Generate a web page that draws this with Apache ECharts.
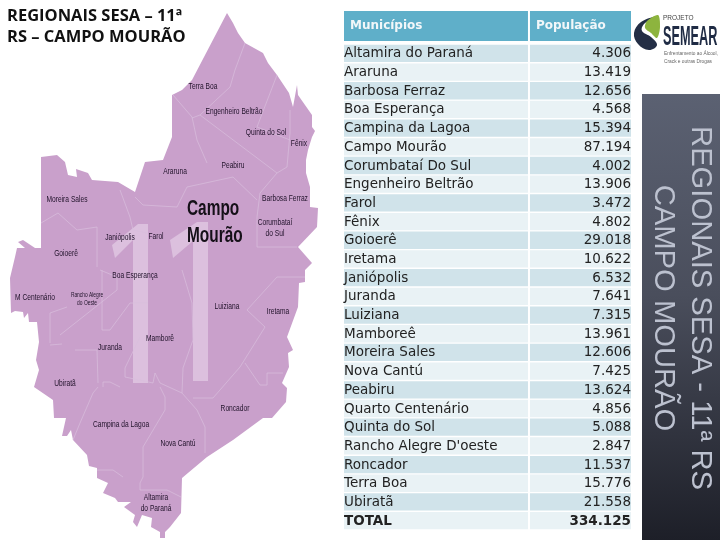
<!DOCTYPE html>
<html>
<head>
<meta charset="utf-8">
<style>html,body{margin:0;padding:0;background:#fff}#main{width:720px;height:540px}</style>
<script src="https://cdn.jsdelivr.net/npm/echarts@6/dist/echarts.min.js"></script>
</head>
<body>
<div id="main"></div>
<script>
// tabela
var cabecalho = ['Municípios', 'População'];
var municipios = ['Altamira do Paraná', 'Araruna', 'Barbosa Ferraz', 'Boa Esperança', 'Campina da Lagoa',
  'Campo Mourão', 'Corumbataí Do Sul', 'Engenheiro Beltrão', 'Farol', 'Fênix', 'Goioerê', 'Iretama',
  'Janiópolis', 'Juranda', 'Luiziana', 'Mamboreê', 'Moreira Sales', 'Nova Cantú', 'Peabiru',
  'Quarto Centenário', 'Quinta do Sol', "Rancho Alegre D'oeste", 'Roncador', 'Terra Boa', 'Ubiratã', 'TOTAL'];
var populacao = [4306, 13419, 12656, 4568, 15394, 87194, 4002, 13906, 3472, 4802, 29018, 10622,
  6532, 7641, 7315, 13961, 12606, 7425, 13624, 4856, 5088, 2847, 11537, 15776, 21558, 334125];

// rotulos do mapa
var rotulos = ['Terra Boa', 'Engenheiro Beltrão', 'Quinta do Sol', 'Fênix', 'Peabiru', 'Araruna',
  'Moreira Sales', 'Barbosa Ferraz', 'Corumbataí\ndo Sul', 'Janiópolis', 'Farol', 'Goioerê',
  'Boa Esperança', 'M Centenário', 'Juranda', 'Mamborê', 'Luiziana', 'Iretama', 'Ubiratã',
  'Roncador', 'Campina da Lagoa', 'Nova Cantú', 'Altamira\ndo Paraná'];
var rotulosPos = [[203, 86], [234, 111], [266, 132], [299, 143], [233, 165], [175, 171],
  [67, 199], [285, 198], [275, 228], [120, 237], [156, 236], [66, 253],
  [135, 275], [35, 297], [110, 347], [160, 338], [227, 306], [278, 311], [65, 383],
  [235, 408], [121, 424], [178, 443], [156, 503]];

// contorno da regional, em pixels da imagem
var contorno = [[227, 13], [233, 23], [238, 33], [245, 43], [263, 53], [268, 63], [277, 75], [289, 93], [293, 107],
  [297, 85], [298, 95], [312, 115], [312, 127], [315, 131], [312, 137], [308, 150], [306, 160], [306, 173],
  [310, 187], [310, 207], [318, 208], [317, 227], [298, 247], [312, 263], [305, 270], [305, 282], [299, 283],
  [298, 307], [287, 337], [293, 350], [288, 353], [289, 367], [282, 383], [287, 388], [286, 402], [272, 418],
  [263, 418], [233, 440], [207, 457], [182, 478], [181, 513], [170, 527], [165, 532], [165, 538], [160, 538],
  [160, 532], [151, 527], [152, 518], [142, 515], [137, 527], [133, 522], [135, 515], [124, 507], [131, 502],
  [118, 502], [115, 498], [103, 493], [108, 483], [97, 478], [97, 468], [89, 466], [87, 455], [73, 440],
  [71, 430], [67, 436], [62, 436], [66, 418], [54, 418], [53, 400], [34, 387], [39, 370], [36, 360], [39, 342],
  [37, 322], [29, 322], [28, 313], [24, 318], [23, 312], [15, 311], [11, 313], [10, 278], [15, 257], [17, 248],
  [25, 248], [18, 242], [23, 240], [35, 248], [41, 248], [41, 157], [57, 155], [65, 162], [68, 175], [77, 177],
  [76, 169], [88, 173], [92, 180], [118, 182], [135, 192], [145, 162], [163, 160], [172, 137], [172, 95],
  [182, 90], [192, 80], [227, 13]];
var umEsq = [[112, 245], [138, 224], [148, 224], [148, 383], [133, 383], [133, 240], [115, 258], [112, 245]];
var umDir = [[170, 240], [197, 222], [208, 222], [208, 381], [193, 381], [193, 241], [173, 258], [170, 240]];
var divisas = [
  [[173, 95], [192, 117], [197, 140], [207, 163]],
  [[245, 43], [235, 70], [230, 87], [200, 115], [192, 118]],
  [[200, 115], [277, 173]],
  [[277, 75], [257, 127], [290, 140]],
  [[290, 110], [290, 133], [287, 167], [277, 173], [260, 193], [257, 217], [257, 247], [297, 247]],
  [[41, 223], [58, 213], [77, 230], [97, 227], [97, 267]],
  [[120, 190], [130, 217], [133, 230], [147, 233]],
  [[135, 197], [143, 205], [177, 207], [187, 187], [233, 177], [257, 200]],
  [[50, 343], [50, 313], [67, 307]],
  [[50, 345], [62, 344]],
  [[60, 335], [117, 290], [117, 277], [100, 270]],
  [[102, 270], [102, 330], [110, 330], [130, 303], [148, 303]],
  [[75, 350], [97, 350], [98, 383]],
  [[125, 377], [125, 368], [140, 337]],
  [[125, 377], [153, 383], [155, 373], [160, 383], [182, 393], [183, 368], [193, 340], [192, 303], [182, 270]],
  [[98, 387], [93, 393], [80, 423], [73, 440]],
  [[103, 387], [103, 382], [110, 382], [120, 387]],
  [[160, 387], [165, 397], [165, 410], [143, 447], [143, 477], [140, 483], [140, 490], [167, 490], [181, 497]],
  [[182, 393], [197, 410], [205, 427], [205, 453]],
  [[193, 398], [213, 398], [240, 367], [265, 327], [247, 310], [277, 277], [305, 277]],
  [[245, 363], [260, 385], [267, 385], [267, 373], [283, 373]],
  [[97, 470], [113, 470], [123, 477]]
];

function poligono(nome, anel) {
  return { type: 'Feature', properties: { name: nome }, geometry: { type: 'Polygon', coordinates: [anel] } };
}
echarts.registerMap('regional', {
  type: 'FeatureCollection',
  features: [poligono('regional', contorno), poligono('umEsq', umEsq), poligono('umDir', umDir)]
});

var fonteTabela = '"DejaVu Sans", sans-serif';
var fonteMapa = '"Liberation Sans", sans-serif';
var divisaoColuna = 0.6445;

function milhar(v) {
  return String(v).replace(/\B(?=(\d{3})+$)/g, '.');
}

function linhaTabela(params, api) {
  var i = api.value(0);
  var cs = params.coordSys;
  var yc = api.coord([0, i])[1];
  var h = api.size([0, 1])[1];
  var w1 = cs.width * divisaoColuna;
  var cor = i % 2 === 0 ? '#d0e3ea' : '#e9f2f5';
  var peso = municipios[i] === 'TOTAL' ? 'bold' : 'normal';
  var y = yc - h / 2 + 0.7;
  var alt = h - 1.4;
  return {
    type: 'group',
    children: [
      { type: 'rect', shape: { x: cs.x, y: y, width: w1 - 1, height: alt }, style: { fill: cor } },
      { type: 'rect', shape: { x: cs.x + w1 + 1, y: y, width: cs.width - w1 - 1, height: alt }, style: { fill: cor } },
      { type: 'text', x: cs.x, y: yc + 0.5, style: { text: municipios[i], fill: '#222', font: peso + ' 13.5px ' + fonteTabela, textAlign: 'left', textVerticalAlign: 'middle' } },
      { type: 'text', x: cs.x + cs.width, y: yc + 0.5, style: { text: milhar(populacao[i]), fill: '#222', font: peso + ' 13.5px ' + fonteTabela, textAlign: 'right', textVerticalAlign: 'middle' } }
    ]
  };
}

function linhaCabecalho(params, api) {
  var cs = params.coordSys;
  var w1 = cs.width * divisaoColuna;
  var estilo = { fill: '#f2f7f9', font: 'bold 12px ' + fonteTabela, textAlign: 'left', textVerticalAlign: 'middle' };
  var yc = cs.y + cs.height / 2;
  return {
    type: 'group',
    children: [
      { type: 'rect', shape: { x: cs.x, y: cs.y, width: w1 - 1, height: cs.height }, style: { fill: '#5fafc9' } },
      { type: 'rect', shape: { x: cs.x + w1 + 1, y: cs.y, width: cs.width - w1 - 1, height: cs.height }, style: { fill: '#5fafc9' } },
      { type: 'text', x: cs.x + 6, y: yc, style: Object.assign({ text: cabecalho[0] }, estilo) },
      { type: 'text', x: cs.x + w1 + 7, y: yc, style: Object.assign({ text: cabecalho[1] }, estilo) }
    ]
  };
}

// texto estreito: nao ha fonte condensada instalada
function rotuloMapa(params, api) {
  var p = api.coord([api.value(0), api.value(1)]);
  var nome = rotulos[params.dataIndex];
  return {
    type: 'text', x: p[0], y: p[1], scaleX: 0.7,
    style: { text: nome, fill: '#20122a', font: '9.5px ' + fonteMapa, lineHeight: 11, textAlign: 'center', textVerticalAlign: 'middle' }
  };
}

function nomeCentro(params, api) {
  var p = api.coord([api.value(0), api.value(1)]);
  return {
    type: 'text', x: p[0], y: p[1], scaleX: 0.7,
    style: { text: 'Campo\nMourão', fill: '#151018', font: 'bold 22px ' + fonteMapa, lineHeight: 27, textAlign: 'left', textVerticalAlign: 'middle' }
  };
}

function rotuloRancho(params, api) {
  var p = api.coord([api.value(0), api.value(1)]);
  return {
    type: 'text', x: p[0], y: p[1], scaleX: 0.65,
    style: { text: 'Rancho Alegre\ndo Oeste', fill: '#20122a', font: '7.5px ' + fonteMapa, lineHeight: 8, textAlign: 'center', textVerticalAlign: 'middle' }
  };
}

var chart = echarts.init(document.getElementById('main'));

chart.setOption({
  animation: false,
  backgroundColor: '#fff',
  title: {
    text: 'REGIONAIS SESA – 11ª\nRS – CAMPO MOURÃO',
    left: 2,
    top: 1,
    textStyle: { fontFamily: '"Open Sans", sans-serif', fontWeight: 'bold', fontSize: 16.5, lineHeight: 21, color: '#111' }
  },
  geo: {
    map: 'regional',
    silent: true,
    projection: {
      project: function (p) { return [p[0], p[1]]; },
      unproject: function (p) { return [p[0], p[1]]; }
    },
    boundingCoords: [[0, 0], [720, 540]],
    left: 0,
    top: 0,
    width: 720,
    height: 540,
    label: { show: false },
    itemStyle: { areaColor: '#c9a0cb', borderWidth: 0 },
    regions: [
      { name: 'umEsq', itemStyle: { areaColor: '#dcc0de' } },
      { name: 'umDir', itemStyle: { areaColor: '#dcc0de' } }
    ]
  },
  grid: [
    { left: 344, top: 44, width: 287, height: 486 },
    { left: 344, top: 11, width: 287, height: 30 }
  ],
  xAxis: [
    { type: 'value', gridIndex: 0, min: 0, max: 1, show: false },
    { type: 'value', gridIndex: 1, min: 0, max: 1, show: false }
  ],
  yAxis: [
    { type: 'category', gridIndex: 0, inverse: true, data: municipios, show: false },
    { type: 'category', gridIndex: 1, data: ['cabecalho'], show: false }
  ],
  series: [
    {
      type: 'lines',
      coordinateSystem: 'geo',
      polyline: true,
      silent: true,
      lineStyle: { color: '#d9bfdc', width: 0.7, opacity: 1 },
      data: divisas.map(function (d) { return { coords: d }; })
    },
    {
      type: 'custom',
      coordinateSystem: 'geo',
      silent: true,
      renderItem: rotuloMapa,
      data: rotulosPos
    },
    {
      type: 'custom',
      coordinateSystem: 'geo',
      silent: true,
      renderItem: nomeCentro,
      data: [[187, 222]]
    },
    {
      type: 'custom',
      coordinateSystem: 'geo',
      silent: true,
      renderItem: rotuloRancho,
      data: [[87, 299]]
    },
    {
      type: 'custom',
      xAxisIndex: 0,
      yAxisIndex: 0,
      coordinateSystem: 'cartesian2d',
      silent: true,
      clip: false,
      renderItem: linhaTabela,
      encode: { y: 0 },
      data: municipios.map(function (m, i) { return [i]; })
    },
    {
      type: 'custom',
      xAxisIndex: 1,
      yAxisIndex: 1,
      coordinateSystem: 'cartesian2d',
      silent: true,
      clip: false,
      renderItem: linhaCabecalho,
      encode: { y: 0 },
      data: [[0]]
    }
  ],
  graphic: [
    {
      type: 'rect',
      shape: { x: 642, y: 94, width: 78, height: 446 },
      style: {
        fill: new echarts.graphic.LinearGradient(0, 0, 0, 1, [
          { offset: 0, color: '#5b6172' },
          { offset: 0.45, color: '#4a4e5c' },
          { offset: 1, color: '#1d1f28' }
        ])
      }
    },
    {
      type: 'text', x: 700.5, y: 308, rotation: -Math.PI / 2,
      style: { text: 'REGIONAIS SESA - 11ª RS', fill: '#bcc1cf', font: '29.2px "Liberation Sans", sans-serif', textAlign: 'center', textVerticalAlign: 'middle' }
    },
    {
      type: 'text', x: 663.5, y: 308, rotation: -Math.PI / 2,
      style: { text: 'CAMPO MOURÃO', fill: '#bcc1cf', font: '29.2px "Liberation Sans", sans-serif', textAlign: 'center', textVerticalAlign: 'middle' }
    },
    // logo
    { type: 'polygon', shape: { points: [[655, 17], [641, 22], [634, 33], [638, 44], [649, 50], [657, 45], [651, 37], [642, 31], [644, 24]], smooth: 0.4 }, style: { fill: '#232e45' } },
    { type: 'polygon', shape: { points: [[658, 15], [647, 21], [645, 28], [651, 33], [657, 38], [660, 27]], smooth: 0.3 }, style: { fill: '#8db43e' } },
    { type: 'text', x: 663, y: 18, style: { text: 'PROJETO', fill: '#444', font: '6.5px "Liberation Sans", sans-serif', textVerticalAlign: 'middle' } },
    { type: 'text', x: 663, y: 37, scaleX: 0.53, scaleY: 1.15, style: { text: 'SEMEAR', fill: '#1f2b44', font: 'bold 24px "Liberation Sans", sans-serif', textVerticalAlign: 'middle' } },
    { type: 'text', x: 664, y: 53, scaleX: 0.8, style: { text: 'Enfrentamento ao Álcool,', fill: '#666', font: '6px "Liberation Sans", sans-serif', textVerticalAlign: 'middle' } },
    { type: 'text', x: 664, y: 61, scaleX: 0.8, style: { text: 'Crack e outras Drogas', fill: '#666', font: '6px "Liberation Sans", sans-serif', textVerticalAlign: 'middle' } }
  ]
});

window.addEventListener('resize', function () { chart.resize(); });
</script>
</body>
</html>
